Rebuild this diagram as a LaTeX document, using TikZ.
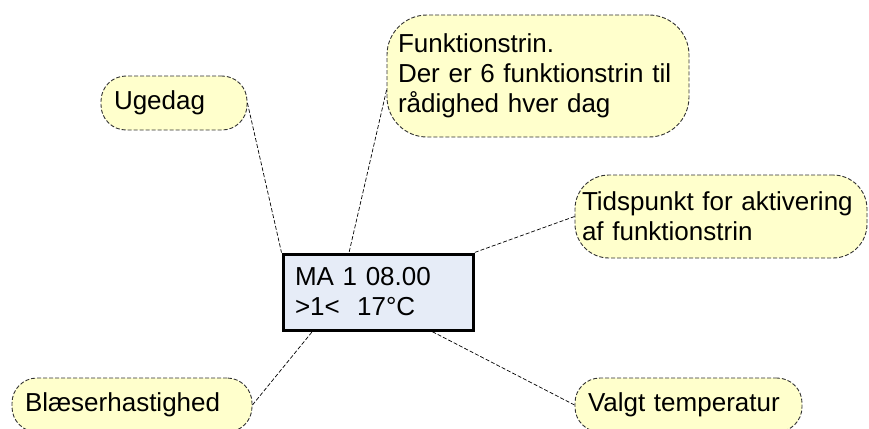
\documentclass[tikz,border=0pt]{standalone}
\usepackage{fontspec}
\setmainfont{Liberation Sans}
\usetikzlibrary{positioning, calc}
\usepackage{xcolor}
\definecolor{notefill}{RGB}{255,255,204}
\definecolor{notedraw}{RGB}{50,50,50}
\definecolor{lcdfill}{RGB}{230,236,247}
\hyphenpenalty=10000

\begin{document}
\begin{tikzpicture}[x=1pt,y=-1pt,
	every node/.style={font=\fontsize{26}{30}\selectfont, align=left, inner xsep=13pt, inner ysep=0pt},
	note/.style={draw=notedraw, fill=notefill, dash pattern=on 4pt off 2pt, line width=0.9pt},
	lcd/.style={draw=black, fill=lcdfill, line width=3pt},
	lead/.style={draw=black, dash pattern=on 4pt off 2pt, line width=0.7pt}
]
\useasboundingbox (0,0) rectangle (869,428);
\clip (0,0) rectangle (869,428);

\node[lcd, text width=166pt, minimum height=76pt, inner xsep=12pt] (disp) at (378,292) {MA 1 08.00\\>1<~~17°C};

\node[note, text width=120pt, minimum height=54pt, rounded corners=25pt] (ugedag) at (174,103) {Ugedag};
\node[note, text width=280pt, minimum height=122pt, rounded corners=40pt, inner xsep=11pt] (fkt) at (538,76) {Funktionstrin.\\Der er 6 funktionstrin til\\rådighed hver dag};
\node[note, text width=278pt, minimum height=83pt, rounded corners=34pt, inner xsep=7pt] (tid) at (721,216.5) {Tidspunkt for aktivering\\af funktionstrin};
\node[note, text width=214pt, minimum height=54pt, rounded corners=25pt] (blaes) at (132,405) {Blæserhastighed};
\node[note, text width=201pt, minimum height=54pt, rounded corners=25pt] (valgt) at (688.5,405) {Valgt temperatur};

\draw[lead] (ugedag.east) -- (disp.north west);
\draw[lead] ([yshift=-14pt]fkt.west) -- ($(disp.north west)!0.35!(disp.north east)$);
\draw[lead] (tid.west) -- (disp.north east);
\draw[lead] (blaes.east) -- ($(disp.south west)!0.16!(disp.south east)$);
\draw[lead] (valgt.west) -- ($(disp.south west)!0.78!(disp.south east)$);
\end{tikzpicture}
\end{document}
